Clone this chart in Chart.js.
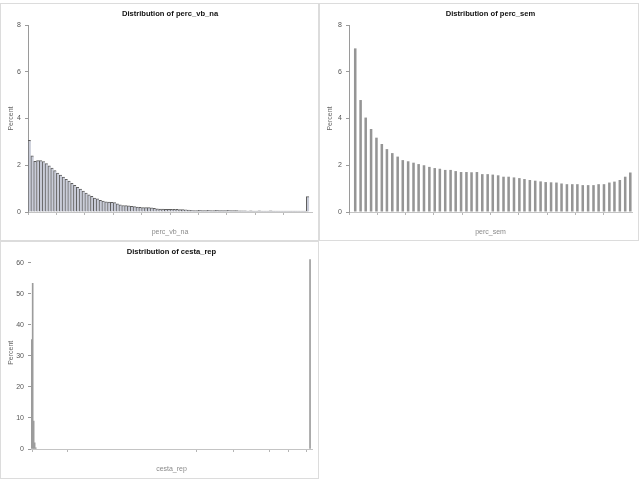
<!DOCTYPE html>
<html>
<head>
<meta charset="utf-8">
<script src="https://cdn.jsdelivr.net/npm/chart.js@4.4.1/dist/chart.umd.min.js"></script>
<style>
  html, body { margin: 0; padding: 0; background: #ffffff; }
  body { width: 639px; height: 483px; position: relative; overflow: hidden; }
  .panel { position: absolute; box-sizing: border-box; border: 1px solid #dcdcdc; background: #fff; }
  .panel canvas { display: block; }
</style>
</head>
<body>
<div class="panel" style="left:0;top:3px;width:319px;height:238px;"><canvas id="c1" width="317" height="236"></canvas></div>
<div class="panel" style="left:319px;top:3px;width:320px;height:238px;"><canvas id="c2" width="318" height="236"></canvas></div>
<div class="panel" style="left:0;top:241px;width:319px;height:238px;"><canvas id="c3" width="317" height="236"></canvas></div>
<script>
// ---------- Panel 1: perc_vb_na ----------
const percVbNaBins = [
  0.005,0.015,0.025,0.035,0.045,0.055,0.065,0.075,0.085,0.095,
  0.105,0.115,0.125,0.135,0.145,0.155,0.165,0.175,0.185,0.195,
  0.205,0.215,0.225,0.235,0.245,0.255,0.265,0.275,0.285,0.295,
  0.305,0.315,0.325,0.335,0.345,0.355,0.365,0.375,0.385,0.395,
  0.405,0.415,0.425,0.435,0.445,0.455,0.465,0.475,0.485,0.495,
  0.505,0.515,0.525,0.535,0.545,0.555,0.565,0.575,0.585,0.595,
  0.605,0.615,0.625,0.635,0.645,0.655,0.665,0.675,0.685,0.695,
  0.705,0.715,0.725,0.735,0.745,0.755,0.765,0.775,0.785,0.795,
  0.805,0.815,0.825,0.835,0.845,0.855,0.865,0.875,0.885,0.895,
  0.905,0.915,0.925,0.935,0.945,0.955,0.965,0.975,0.985,0.995
];
const percVbNaPercent = [
  3.07,2.40,2.17,2.20,2.20,2.16,2.07,1.97,1.88,1.77,
  1.67,1.58,1.49,1.40,1.32,1.23,1.14,1.06,0.98,0.89,
  0.81,0.73,0.67,0.60,0.56,0.50,0.47,0.44,0.42,0.41,
  0.40,0.35,0.31,0.28,0.27,0.26,0.24,0.23,0.21,0.20,
  0.19,0.19,0.19,0.18,0.16,0.14,0.13,0.12,0.11,0.11,
  0.11,0.11,0.11,0.10,0.10,0.09,0.08,0.07,0.06,0.06,
  0.07,0.06,0.06,0.07,0.06,0.06,0.07,0.06,0.06,0.06,
  0.07,0.06,0.06,0.06,0.05,0.05,0.05,0.04,0.05,0.04,
  0.04,0.05,0.04,0.04,0.04,0.05,0.04,0.04,0.04,0.04,
  0.04,0.04,0.04,0.04,0.04,0.04,0.04,0.04,0.66,0.00
];
const percVbNaXTicks = [0, 0.1, 0.2, 0.3, 0.4, 0.5, 0.6, 0.7, 0.8, 0.9];
const percVbNaYTicks = [0, 2, 4, 6, 8];

// ---------- Panel 2: perc_sem ----------
const percSemBins = [
  0.022,0.041,0.059,0.078,0.097,0.116,0.134,0.153,0.172,0.190,
  0.209,0.228,0.246,0.265,0.284,0.303,0.321,0.340,0.359,0.377,
  0.396,0.415,0.433,0.452,0.471,0.490,0.508,0.527,0.546,0.564,
  0.583,0.602,0.620,0.639,0.658,0.677,0.695,0.714,0.733,0.751,
  0.770,0.789,0.807,0.826,0.845,0.864,0.882,0.901,0.920,0.938,
  0.957,0.976,0.994
];
const percSemPercent = [
  7.00,4.79,4.04,3.55,3.18,2.91,2.69,2.52,2.37,2.22,
  2.17,2.11,2.05,2.00,1.93,1.88,1.85,1.80,1.80,1.75,
  1.71,1.71,1.70,1.71,1.62,1.62,1.60,1.57,1.51,1.51,
  1.48,1.45,1.41,1.37,1.34,1.31,1.28,1.27,1.26,1.22,
  1.19,1.19,1.19,1.15,1.15,1.15,1.19,1.19,1.26,1.30,
  1.37,1.51,1.69
];
const percSemXTicks = [0, 0.1, 0.2, 0.3, 0.4, 0.5, 0.6, 0.7, 0.8, 0.9];
const percSemYTicks = [0, 2, 4, 6, 8];

// ---------- Panel 3: cesta_rep ----------
const cestaRepBins = [0.2, 0.6, 0.95, 1.3, 1.7, 99.3];
const cestaRepPercent = [35.3, 53.4, 9.0, 2.0, 0.4, 61.0];
const cestaRepXTicks = [0.5, 13, 59, 72, 85, 91.5, 98];
const cestaRepYTicks = [0, 10, 20, 30, 40, 50, 60];

const titles = ['Distribution of perc_vb_na', 'Distribution of perc_sem', 'Distribution of cesta_rep'];
const xTitles = ['perc_vb_na', 'perc_sem', 'cesta_rep'];
const yTitle = 'Percent';

const FONT = "'Liberation Sans', Arial, sans-serif";

// Title centred over the plot area (as in the reference), drawn as real text.
const areaTitle = {
  id: 'areaTitle',
  afterDraw(chart, args, o) {
    const ctx = chart.ctx, a = chart.chartArea;
    ctx.save();
    ctx.font = 'bold 7.6px ' + FONT;
    ctx.fillStyle = '#111';
    ctx.textAlign = 'center';
    ctx.textBaseline = 'middle';
    ctx.fillText(o.text, (a.left + a.right) / 2, o.y);
    ctx.restore();
  }
};

function makeHist(id, opt) {
  const data = opt.xs.map((x, i) => ({ x: x, y: opt.ys[i] }));
  return new Chart(document.getElementById(id), {
    type: 'bar',
    data: {
      datasets: [{
        data: data,
        backgroundColor: opt.fill,
        borderColor: opt.stroke,
        borderWidth: opt.borderWidth,
        borderSkipped: false,
        barPercentage: opt.barPct,
        categoryPercentage: 1.0
      }]
    },
    plugins: [areaTitle],
    options: {
      responsive: false,
      animation: false,
      events: [],
      layout: { padding: { left: 0, right: opt.padRight, top: opt.padTop, bottom: 0 } },
      plugins: {
        legend: { display: false },
        tooltip: { enabled: false },
        title: { display: false },
        areaTitle: { text: opt.title, y: opt.titleY }
      },
      scales: {
        x: {
          type: 'linear',
          offset: false,
          min: opt.xMin,
          max: opt.xMax,
          afterBuildTicks: (s) => { s.ticks = opt.xTicks.map(v => ({ value: v })); },
          afterFit: (s) => { s.height = opt.xAxisH; },
          ticks: { callback: () => '', font: { family: FONT, size: 7 }, padding: 0, maxRotation: 0, autoSkip: false },
          grid: { display: true, offset: false, drawOnChartArea: false, drawTicks: true, tickLength: 3, color: '#b5b5b5' },
          border: { display: true, color: '#c4c4c4' },
          title: {
            display: true, text: opt.xTitle, color: '#8a8a8a',
            font: { family: FONT, size: 7 }, padding: { top: 0, bottom: opt.xTitleBottom }
          }
        },
        y: {
          min: 0,
          max: opt.yMax,
          afterBuildTicks: (s) => { s.ticks = opt.yTicks.map(v => ({ value: v })); },
          afterFit: (s) => { s.width = opt.yAxisW; },
          ticks: { color: '#555', font: { family: FONT, size: 7 }, padding: 4 },
          grid: { display: true, drawOnChartArea: false, drawTicks: true, tickLength: 3, color: '#9a9a9a' },
          border: { display: opt.yBorder, color: '#9a9a9a' },
          title: {
            display: true, text: yTitle, color: '#666',
            font: { family: FONT, size: 7 }, padding: { top: 6, bottom: 0 }
          }
        }
      }
    }
  });
}

makeHist('c1', {
  xs: percVbNaBins, ys: percVbNaPercent, xTicks: percVbNaXTicks, yTicks: percVbNaYTicks,
  xMin: 0, xMax: 1, yMax: 8, title: titles[0], xTitle: xTitles[0],
  fill: '#c9ccd8', stroke: '#5e5e5e', borderWidth: { left: 1, top: 1, right: 0, bottom: 0 },
  barPct: 1.0, padRight: 6, padTop: 21, titleY: 10, xAxisH: 28, xTitleBottom: 4, yAxisW: 27, yBorder: true
});
makeHist('c2', {
  xs: percSemBins, ys: percSemPercent, xTicks: percSemXTicks, yTicks: percSemYTicks,
  xMin: 0, xMax: 1, yMax: 8, title: titles[1], xTitle: xTitles[1],
  fill: '#959595', stroke: '#959595', borderWidth: 0,
  barPct: 0.5, padRight: 6, padTop: 21, titleY: 10, xAxisH: 28, xTitleBottom: 4, yAxisW: 29, yBorder: true
});
makeHist('c3', {
  xs: cestaRepBins, ys: cestaRepPercent, xTicks: cestaRepXTicks, yTicks: cestaRepYTicks,
  xMin: 0, xMax: 100, yMax: 62, title: titles[2], xTitle: xTitles[2],
  fill: '#9c9c9c', stroke: '#9c9c9c', borderWidth: 0,
  barPct: 1.0, padRight: 6, padTop: 14.6, titleY: 10, xAxisH: 29, xTitleBottom: 5, yAxisW: 30, yBorder: false
});
</script>
</body>
</html>
